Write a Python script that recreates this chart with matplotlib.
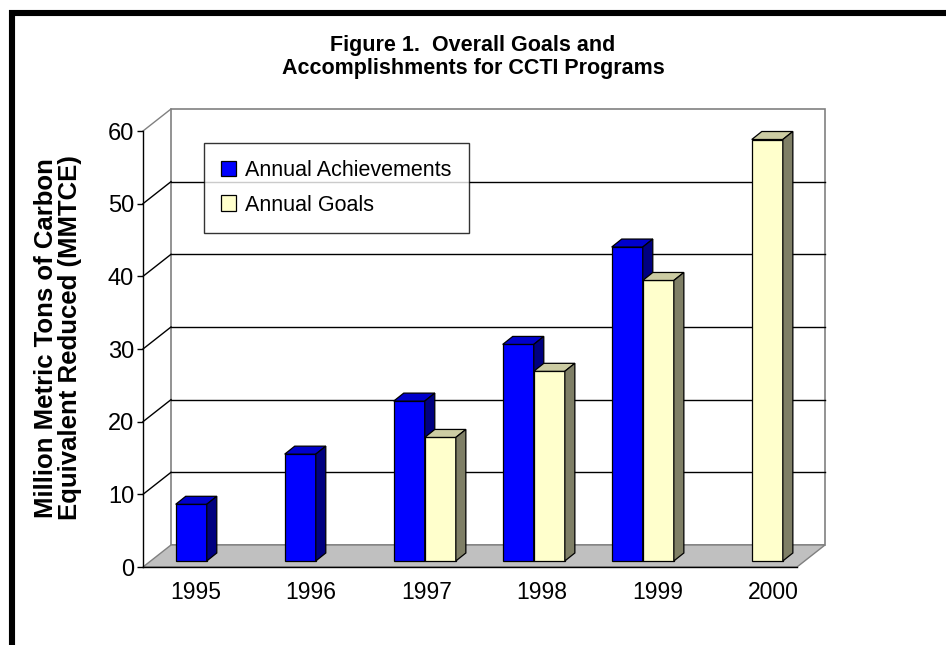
import matplotlib
matplotlib.use("Agg")
import matplotlib.pyplot as plt
import numpy as np
from matplotlib.lines import Line2D
from matplotlib.patches import Patch, Polygon

plt.rcParams['font.family'] = ['Liberation Sans', 'DejaVu Sans']

years = ['1995', '1996', '1997', '1998', '1999', '2000']
achievements = [7.8, 14.7, 22.0, 29.8, 43.2, np.nan]
goals = [np.nan, np.nan, 17.0, 26.1, 38.6, 58.0]
yticks = [0, 10, 20, 30, 40, 50, 60]

# pseudo 3d geometry (in data units of the front plane)
DEPTH_X, DEPTH_Y = 0.257, 3.03      # floor / back wall depth
BAR_X0, BAR_W = -0.20, 0.285        # bar front face placement
BAR_Y0 = 0.83                       # bars stand a bit back on the floor
BAR_DX, BAR_DY = 0.092, 1.1         # bar depth

W, H = 946, 645
fig = plt.figure(figsize=(W / 100, H / 100), dpi=100)
ax = fig.add_axes([143 / W, (H - 567) / H, 654 / W, 436 / H])
ax.set_xlim(-0.5, 5.5)
ax.set_ylim(0, 60)
ax.patch.set_visible(False)
for s in ['top', 'right']:
    ax.spines[s].set_visible(False)
ax.spines['left'].set_linewidth(1.0)
ax.spines['bottom'].set_linewidth(1.0)

# back wall
x0, x1 = -0.5 + DEPTH_X, 5.5 + DEPTH_X
wall = Polygon([(x0, DEPTH_Y), (x1, DEPTH_Y), (x1, 60 + DEPTH_Y), (x0, 60 + DEPTH_Y)],
               closed=True, facecolor='white', edgecolor='#808080', lw=1.2,
               clip_on=False, zorder=0.5)
ax.add_patch(wall)

# floor
floor = Polygon([(-0.5, 0), (5.5, 0), (x1, DEPTH_Y), (x0, DEPTH_Y)], closed=True,
                facecolor='#C0C0C0', edgecolor='#808080', lw=1.0, clip_on=False, zorder=0.6)
ax.add_patch(floor)

# gridlines on back wall and side wall
for v in yticks[1:]:
    c = 'black' if v < 60 else '#808080'
    if v < 60:
        ax.plot([x0, x1], [v + DEPTH_Y, v + DEPTH_Y], color=c, lw=1.0,
                clip_on=False, zorder=0.7)
    ax.plot([-0.5, x0], [v, v + DEPTH_Y], color=c, lw=1.0, clip_on=False, zorder=0.7)

ax.set_yticks(yticks)
ax.tick_params(axis='y', length=4.3, width=1.0, pad=2, labelsize=17)

xpos = np.arange(len(years)) * 1.06 - 0.02
ax.set_xticks(xpos)
ax.set_xticklabels(years)
ax.tick_params(axis='x', length=0, pad=10, labelsize=16.5)


def draw_bar(x, h, front, top, side, z):
    if np.isnan(h):
        return
    ax.bar(x, h, width=BAR_W, bottom=BAR_Y0, align='edge', color=front,
           edgecolor='black', lw=0.9, zorder=z)
    yt = BAR_Y0 + h
    ax.add_patch(Polygon([(x, yt), (x + BAR_W, yt), (x + BAR_W + BAR_DX, yt + BAR_DY),
                          (x + BAR_DX, yt + BAR_DY)], closed=True, facecolor=top,
                         edgecolor='black', lw=0.9, zorder=z, clip_on=False))
    ax.add_patch(Polygon([(x + BAR_W, BAR_Y0), (x + BAR_W + BAR_DX, BAR_Y0 + BAR_DY),
                          (x + BAR_W + BAR_DX, yt + BAR_DY), (x + BAR_W, yt)], closed=True,
                         facecolor=side, edgecolor='black', lw=0.9, zorder=z, clip_on=False))


for i in range(len(years)):
    draw_bar(i + BAR_X0, achievements[i], '#0000FF', '#0000CC', '#000080', 2 + i * 0.1)
    draw_bar(i + BAR_X0 + BAR_W, goals[i], '#FFFFCC', '#CCCCA3', '#7F7F66', 2.05 + i * 0.1)

handles = [Patch(facecolor='#0000FF', edgecolor='black', lw=0.9),
           Patch(facecolor='#FFFFCC', edgecolor='black', lw=0.9)]
leg = ax.legend(handles, ['Annual Achievements', 'Annual Goals'], loc='upper left',
                bbox_to_anchor=(61 / 654, 424 / 436), borderaxespad=0, fontsize=15.5,
                frameon=True, fancybox=False, shadow=False, handlelength=0.7,
                handleheight=0.7, handletextpad=0.4, labelspacing=0.62, borderpad=0.8)
leg.get_frame().set_edgecolor('black')
leg.get_frame().set_linewidth(1.0)
leg.set_zorder(5)

fig.text(473 / W, 1 - 57 / H, 'Figure 1.  Overall Goals and\nAccomplishments for CCTI Programs',
         ha='center', va='center', fontsize=15.5, fontweight='bold', linespacing=1.15)
fig.text(58 / W, 1 - 338 / H, 'Million Metric Tons of Carbon\nEquivalent Reduced (MMTCE)',
         ha='center', va='center', rotation=90, fontsize=18.5, fontweight='bold',
         linespacing=1.02)

# thick frame on top and left
fig.add_artist(Line2D([9 / W, 1], [1 - 13 / H, 1 - 13 / H], color='black', lw=4.4,
                      solid_capstyle='butt'))
fig.add_artist(Line2D([12 / W, 12 / W], [0, 1 - 10 / H], color='black', lw=4.4,
                      solid_capstyle='butt'))

fig.savefig('out.png', dpi=100)
